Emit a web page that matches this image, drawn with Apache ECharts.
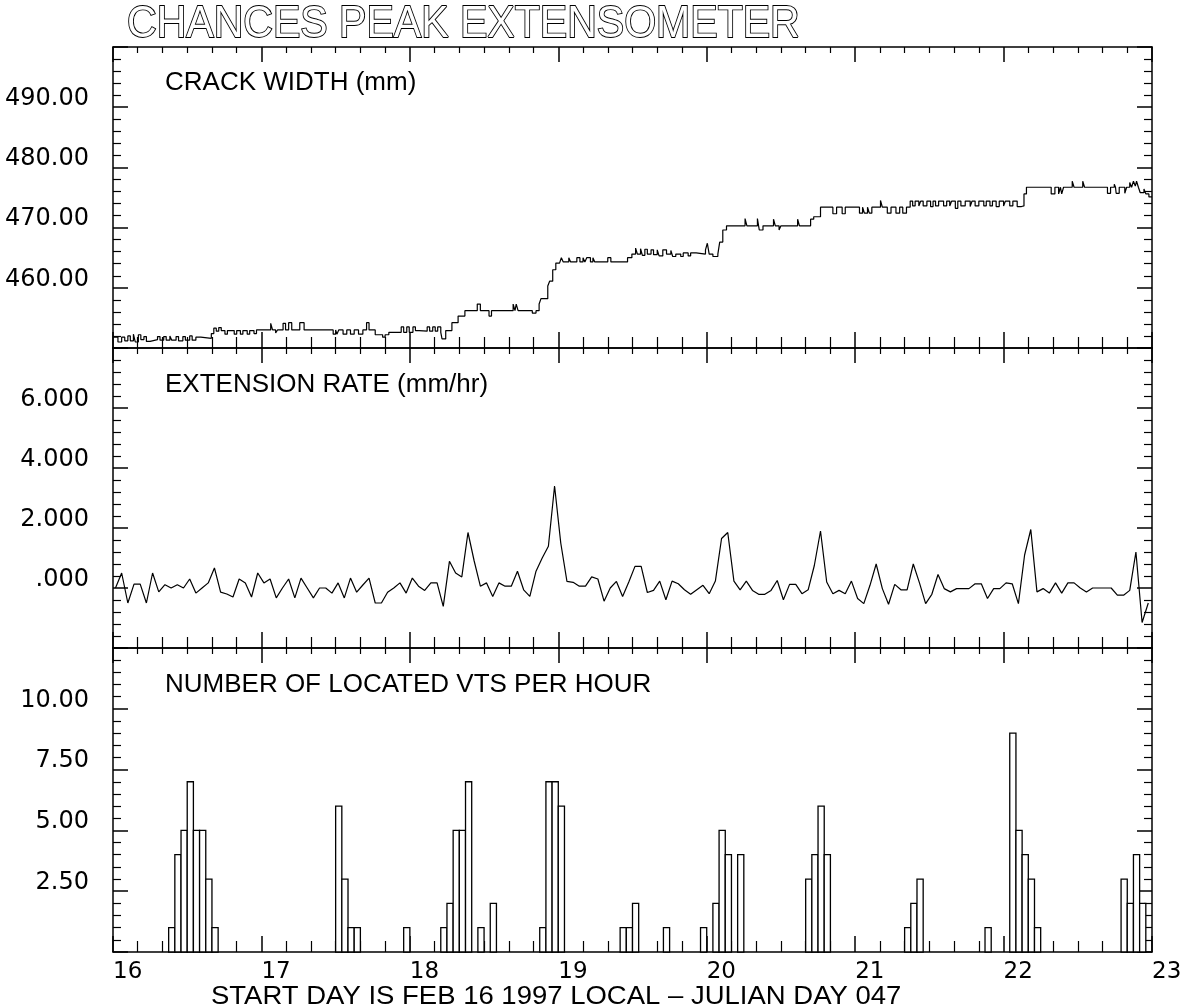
<!DOCTYPE html>
<html><head><meta charset="utf-8">
<script src="https://cdn.jsdelivr.net/npm/echarts@6/dist/echarts.min.js"></script>
<style>html,body{margin:0;padding:0;background:#fff}#c{width:1187px;height:1008px}</style>
</head><body><div id="c"></div>
<script>
// ---- data ----
const dayTicks = [16, 17, 18, 19, 20, 21, 22, 23];
const crackTicks = [460, 470, 480, 490];
const rateTicks = [0, 2, 4, 6];
const countTicks = [2.5, 5, 7.5, 10];

// crack width: [hour since day 16 00:00, mm] -- value holds from that hour on
const crackSteps = [
  [0,451.8],[0.8,451.0],[1.4,451.8],[1.9,451.2],[2.4,452.0],[2.8,451.2],[3.3,452.3],[3.6,451.0],[4.1,452.2],[4.5,451.4],
  [5.0,451.9],[5.4,451.1],[6.0,451.4],[7.2,451.9],[7.6,451.3],[8.2,451.9],[8.6,451.3],[9.2,452.0],[9.5,451.3],[10.2,451.9],
  [10.6,451.2],[11.3,451.9],[11.7,451.3],[12.4,452.0],[12.8,451.3],[13.4,451.8],[14.2,451.6],[15.9,452.4],[16.3,453.3],[16.7,452.8],
  [17.1,453.4],[17.5,452.9],[18.1,452.3],[18.5,452.9],[19.6,452.3],[20.0,452.9],[20.6,452.3],[21.0,452.9],[21.7,452.3],[22.1,452.9],
  [22.8,452.4],[23.2,453.0],[25.5,454.1],[25.8,453.0],[26.3,452.5],[26.6,453.0],[27.5,454.1],[27.9,453.0],[28.4,454.2],[28.9,453.0],
  [30.2,454.2],[30.9,453.0],[35.6,452.3],[36.0,453.0],[36.2,452.3],[36.5,453.0],[37.2,452.3],[37.8,453.0],[38.4,452.3],[39.0,453.0],
  [39.7,452.3],[40.4,453.0],[41.0,454.2],[41.4,453.0],[42.4,452.2],[43.6,451.8],[44.0,452.2],[44.6,452.6],[46.6,453.5],[47.0,452.6],
  [47.5,453.5],[47.9,452.6],[48.5,453.5],[48.9,452.9],[49.5,452.8],[50.8,453.5],[51.2,452.8],[51.7,453.5],[52.1,452.8],[52.5,453.5],
  [53.0,452.6],[53.2,451.5],[53.8,452.9],[54.8,454.2],[55.8,455.3],[56.9,456.2],
  [58.9,457.3],[59.4,456.2],[60.8,455.3],[61.2,456.2],[64.7,457.3],[65.0,456.2],[65.2,457.3],[65.5,456.2],[67.8,455.8],[68.4,456.2],
  [68.9,457.3],[69.2,458.2],[70.3,460.3],[70.6,461.1],[71.1,463.0],[71.6,464.1],[72.2,464.3],[72.5,465.0],[72.8,464.3],[73.7,465.0],
  [74.0,464.3],[75.0,465.0],[75.5,464.3],[76.0,465.0],[76.3,464.3],[76.6,465.0],[77.2,464.3],[77.6,465.0],[77.9,464.3],[80.0,465.0],
  [80.5,464.3],[83.2,465.0],[83.9,465.6],[84.5,466.6],[84.8,465.6],[85.3,466.5],[85.6,465.4],[86.0,466.4],[86.4,465.6],
  [87.0,466.3],[87.4,465.5],[88.0,466.3],[88.3,465.3],[88.9,466.3],[89.5,465.6],[90.2,466.2],[90.5,465.2],[91.0,465.6],[91.8,465.2],
  [92.2,465.8],[93.0,465.3],[93.4,465.8],[94.3,465.6],[95.8,466.3],[96.1,467.4],[96.4,465.6],[97.0,465.2],[97.8,465.6],[98.1,467.6],
  [98.6,469.6],[99.2,470.3],
  [102.2,471.5],[102.5,470.3],[104.2,471.5],[104.5,469.6],[105.1,470.3],[106.8,471.4],[107.1,470.3],[107.7,469.6],[108.0,470.3],
  [110.7,471.4],[111.0,470.3],[112.8,471.4],[113.3,471.8],[114.4,473.4],
  [116.4,472.3],[117.0,473.4],[117.9,472.3],[118.4,473.4],[120.7,472.4],[121.2,473.4],[121.5,472.4],[122.0,473.4],[122.3,472.4],
  [122.7,473.4],[124.1,474.5],[124.4,473.4],[125.2,472.4],[125.8,473.4],[126.6,472.4],[127.2,473.4],[127.7,472.4],[128.3,473.4],
  [128.9,474.4],[129.3,473.6],[129.7,474.4],[130.3,473.6],[130.6,474.4],[131.0,473.6],[131.6,474.4],[132.2,473.5],[132.6,474.4],
  [133.0,473.6],[133.5,474.4],[134.3,473.6],[134.8,474.4],[135.3,473.6],[135.6,474.4],[136.2,473.2],[136.6,474.4],[137.1,473.6],
  [137.8,474.4],[138.6,473.5],[138.9,474.4],[139.4,473.6],[140.0,474.4],[140.8,473.6],[141.2,474.4],[141.8,473.6],[142.2,474.4],
  [142.8,473.5],[143.3,474.4],[144.0,473.6],[144.3,474.4],[145.0,473.6],[145.5,474.4],[146.2,473.5],[146.9,473.6],[147.3,475.6],
  [147.7,476.7],
  [151.7,475.6],[152.3,476.7],[152.9,475.6],[153.2,476.7],[153.4,475.6],[153.7,476.7],[155.1,477.7],[155.4,476.7],[156.8,477.7],
  [157.1,476.7],[160.8,475.7],[161.3,476.7],[161.9,477.2],[162.1,476.7],[162.2,475.7],[162.7,476.7],[163.6,475.7],[163.9,476.7],
  [164.4,477.5],[164.7,476.7],[165.0,477.7],[165.3,476.9],[165.5,477.7],[165.8,476.7],[166.1,475.8],[166.7,476.4],[167.0,475.6],
  [167.5,475.1],[168,475.1]
];

// extension rate, one value per hour (hour 0 = day 16 00:00)
const rateHourly = [
  0.0, 0.5, -0.5, 0.13, 0.13, -0.5, 0.5, -0.13, 0.11, 0.0, 0.11, 0.0, 0.3, -0.17, 0.0, 0.17, 0.67, -0.14, -0.2, -0.3, 0.3, 0.17, -0.3, 0.5,
  0.17, 0.3, -0.33, 0.0, 0.3, -0.33, 0.33, 0.0, -0.33, 0.0, 0.0, -0.17, 0.17, -0.33, 0.33, -0.14, 0.1, 0.33, -0.5, -0.5, -0.14, 0.0, 0.17, -0.17,
  0.33, 0.06, -0.08, 0.17, 0.17, -0.61, 0.89, 0.5, 0.37, 1.85, 0.9, 0.06, 0.17, -0.28, 0.17, 0.06, 0.06, 0.56, -0.06, -0.28, 0.56, 1.0, 1.39, 3.4,
  1.5, 0.22, 0.19, 0.06, 0.06, 0.37, 0.3, -0.44, 0.0, 0.22, -0.28, 0.2, 0.72, 0.72, -0.15, -0.08, 0.23, -0.39, 0.23, 0.14, -0.06, -0.21, -0.06, 0.09,
  -0.19, 0.23, 1.65, 1.85, 0.23, -0.06, 0.23, -0.08, -0.21, -0.21, -0.08, 0.25, -0.39, 0.12, 0.12, -0.19, -0.06, 0.75, 1.9, 0.2, -0.19, -0.08, -0.19, 0.23,
  -0.35, -0.52, 0.09, 0.8, -0.02, -0.54, 0.12, -0.06, -0.06, 0.8, 0.17, -0.52, -0.21, 0.45, -0.02, -0.13, -0.02, -0.02, -0.02, 0.14, 0.14, -0.35, -0.02, -0.02,
  0.17, 0.14, -0.52, 1.1, 1.95, -0.13, -0.02, -0.17, 0.17, -0.17, 0.17, 0.17, 0.0, -0.13, 0, 0, 0, 0, -0.24, -0.24, -0.08, 1.2, -1.15, -0.5
];

// located VTs per hour (hour index since day 16 00:00, count)
const barHours  = [9,10,11,12,13,14,15,16, 36,37,38,39, 47, 53,54,55,56,57, 59, 61, 69,70,71,72, 82,83,84, 89, 95, 97,98,99,101, 112,113,114,115, 128,129,130, 141, 145,146,147,148,149, 163,164,165,166];
const barCounts = [1, 4, 5, 7, 5, 5, 3, 1,  6, 3, 1, 1,  1,  1, 2, 5, 5, 7,  1,  2,  1, 7, 7, 6,  1, 1, 2,  1,  1,  2, 5, 4, 4,   3, 4, 6, 4,   1, 2, 3,   1,   9, 5, 4, 3, 1,   3, 2, 4, 2];

// ---- chart ----
const toDay = h => 16 + h / 24;
const BLACK = '#000';
const grids = [
  { left: 113, right: 35, top: 47, height: 301 },
  { left: 113, right: 35, top: 348, height: 300 },
  { left: 113, right: 35, top: 648, height: 304 }
];
const yDefs = [
  { min: 450, max: 500, interval: 10, ticks: crackTicks, fmt: v => v.toFixed(2) },
  { min: -2, max: 8, interval: 2, ticks: rateTicks, fmt: v => v === 0 ? '.000' : v.toFixed(3) },
  { min: 0, max: 12.5, interval: 2.5, ticks: countTicks, fmt: v => v.toFixed(2) }
];

const xAxes = [], yAxes = [];
grids.forEach((g, gi) => {
  ['bottom', 'top'].forEach(pos => {
    xAxes.push({
      type: 'value', gridIndex: gi, position: pos, min: 16, max: 23, interval: 1,
      axisLine: { show: true, onZero: false, lineStyle: { color: BLACK, width: 1.5 } },
      axisTick: { show: true, inside: true, length: pos === 'top' ? 15 : 16, lineStyle: { color: BLACK, width: 1.5 } },
      minorTick: { show: true, splitNumber: 6, length: pos === 'top' ? 6 : 11, lineStyle: { color: BLACK, width: 1.2 } },
      splitLine: { show: false },
      axisLabel: {
        show: gi === 2 && pos === 'bottom', color: BLACK, fontFamily: 'DejaVu Sans', fontSize: 23,
        align: 'left', margin: 9,
        formatter: v => dayTicks.includes(v) ? String(v) : ''
      }
    });
  });
  const d = yDefs[gi];
  ['left', 'right'].forEach(pos => {
    yAxes.push({
      type: 'value', gridIndex: gi, position: pos, min: d.min, max: d.max, interval: d.interval,
      axisLine: { show: true, onZero: false, lineStyle: { color: BLACK, width: 1.5 } },
      axisTick: { show: true, inside: true, length: 15, lineStyle: { color: BLACK, width: 1.5 } },
      minorTick: { show: true, splitNumber: 5, length: 8, lineStyle: { color: BLACK, width: 1.2 } },
      splitLine: { show: false },
      axisLabel: {
        show: pos === 'left', color: BLACK, fontFamily: 'DejaVu Sans', fontSize: 24, margin: 24,
        verticalAlign: 'bottom', lineHeight: 17,
        formatter: v => d.ticks.includes(v) ? d.fmt(v) : ''
      }
    });
  });
});

const chart = echarts.init(document.getElementById('c'), null, { renderer: 'canvas' });
chart.setOption({
  backgroundColor: '#fff',
  animation: false,
  grid: grids,
  xAxis: xAxes,
  yAxis: yAxes,
  series: [
    {
      type: 'line', xAxisIndex: 0, yAxisIndex: 0, step: 'end', showSymbol: false,
      lineStyle: { color: BLACK, width: 1.2 },
      data: crackSteps.map(([h, v]) => [toDay(h), v])
    },
    {
      type: 'line', xAxisIndex: 2, yAxisIndex: 2, showSymbol: false,
      lineStyle: { color: BLACK, width: 1.2 },
      data: rateHourly.map((v, i) => [toDay(i + 0.4), v])
    },
    {
      type: 'custom', xAxisIndex: 4, yAxisIndex: 4,
      encode: { x: [0, 2], y: 1 },
      data: barHours.map((h, i) => [toDay(h), barCounts[i], toDay(h + 1)]),
      renderItem: (params, api) => {
        const p0 = api.coord([api.value(0), 0]);
        const p1 = api.coord([api.value(2), api.value(1)]);
        return {
          type: 'rect',
          shape: { x: p0[0], y: p1[1], width: p1[0] - p0[0], height: p0[1] - p1[1] },
          style: { fill: '#fff', stroke: BLACK, lineWidth: 1.3 }
        };
      }
    }
  ],
  graphic: [
    { type: 'text', x: 127, y: 25, scaleX: 0.912,
      style: { text: 'CHANCES PEAK EXTENSOMETER', font: '45px "Liberation Sans"', fill: '#fff', stroke: BLACK, lineWidth: 1.9, textAlign: 'left', textVerticalAlign: 'middle' } },
    { type: 'text', x: 165, y: 83,
      style: { text: 'CRACK WIDTH (mm)', font: '26px "Liberation Sans"', fill: BLACK, textAlign: 'left', textVerticalAlign: 'middle' } },
    { type: 'text', x: 165, y: 385,
      style: { text: 'EXTENSION RATE (mm/hr)', font: '26px "Liberation Sans"', fill: BLACK, textAlign: 'left', textVerticalAlign: 'middle' } },
    { type: 'text', x: 165, y: 685,
      style: { text: 'NUMBER OF LOCATED VTS PER HOUR', font: '26px "Liberation Sans"', fill: BLACK, textAlign: 'left', textVerticalAlign: 'middle' } },
    { type: 'text', x: 211, y: 997, scaleX: 1.1,
      style: { text: 'START DAY IS FEB 16 1997 LOCAL \u2013 JULIAN DAY 047', font: '25px "Liberation Sans"', fill: BLACK, textAlign: 'left', textVerticalAlign: 'middle' } }
  ]
});
</script>
</body></html>
